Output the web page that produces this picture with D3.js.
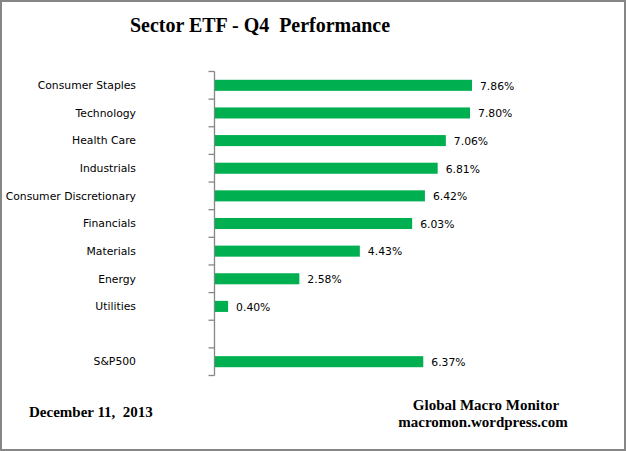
<!DOCTYPE html>
<html>
<head>
<meta charset="utf-8">
<script src="https://cdn.jsdelivr.net/npm/d3@7"></script>
<style>
  body { margin: 0; background: #fff; }
  svg { display: block; }
</style>
</head>
<body>
<div id="chart"></div>
<script>
    "use strict";

    // categories top to bottom, "" is the empty slot before the index
    var categories = ["Consumer Staples", "Technology", "Health Care", "Industrials",
        "Consumer Discretionary", "Financials", "Materials", "Energy", "Utilities", "", "S&P500"];
    var values = [7.86, 7.80, 7.06, 6.81, 6.42, 6.03, 4.43, 2.58, 0.40, null, 6.37];
    var valueLabels = ["7.86%", "7.80%", "7.06%", "6.81%", "6.42%", "6.03%", "4.43%", "2.58%", "0.40%", "", "6.37%"];

    var width = 626, height = 451;
    var margin = { top: 71.5, left: 214.5, bottom: 75.5 };

    var svg = d3.select("#chart")
        .append("svg")
        .attr("width", width)
        .attr("height", height);

    // outer frame
    svg.append("rect")
        .attr("x", 1).attr("y", 1)
        .attr("width", width - 2).attr("height", height - 2)
        .attr("fill", "#fff")
        .attr("stroke", "#868686")
        .attr("stroke-width", 2);

    var serif = "Liberation Serif, Times New Roman, serif";

    svg.append("text")
        .attr("x", 260)
        .attr("y", 31.5)
        .attr("text-anchor", "middle")
        .style("font-family", serif)
        .style("font-weight", "bold")
        .style("font-size", "21px")
        .style("white-space", "pre")
        .attr("textLength", 260)
        .attr("lengthAdjust", "spacingAndGlyphs")
        .text("Sector ETF - Q4  Performance");

    var data = categories.map(function (c, i) {
        return { name: c, value: values[i], label: valueLabels[i], key: "k" + i };
    });

    var y = d3.scaleBand()
        .domain(data.map(function (d) { return d.key; }))
        .range([margin.top, height - margin.bottom])
        .paddingInner(0.6)
        .paddingOuter(0.3);

    var x = d3.scaleLinear()
        .domain([0, 7.86])
        .range([margin.left + 0.5, 472]);

    // y axis with ticks between bands
    var step = y.step();
    var bounds = d3.range(categories.length + 1).map(function (i) {
        return margin.top + i * step;
    });
    var axis = svg.append("g").attr("stroke", "#868686").attr("stroke-width", 1.3);
    axis.append("line")
        .attr("x1", margin.left).attr("x2", margin.left)
        .attr("y1", margin.top).attr("y2", height - margin.bottom);
    axis.selectAll("line.tick")
        .data(bounds)
        .enter()
        .append("line")
        .attr("class", "tick")
        .attr("x1", margin.left - 6).attr("x2", margin.left)
        .attr("y1", function (d) { return d; })
        .attr("y2", function (d) { return d; });

    var labelFont = "Tahoma, DejaVu Sans, Verdana, sans-serif";

    svg.selectAll("text.cat")
        .data(data)
        .enter()
        .append("text")
        .attr("class", "cat")
        .attr("x", 136)
        .attr("y", function (d) { return y(d.key) + y.bandwidth() / 2; })
        .attr("dy", "0.35em")
        .attr("text-anchor", "end")
        .style("font-family", labelFont)
        .style("font-size", "10.8px")
        .attr("fill", "#000")
        .text(function (d) { return d.name; });

    var bars = data.filter(function (d) { return d.value !== null; });

    svg.selectAll("rect.bar")
        .data(bars)
        .enter()
        .append("rect")
        .attr("class", "bar")
        .attr("x", x(0))
        .attr("y", function (d) { return y(d.key); })
        .attr("width", function (d) { return x(d.value) - x(0); })
        .attr("height", y.bandwidth())
        .attr("fill", "#00B050");

    svg.selectAll("text.val")
        .data(bars)
        .enter()
        .append("text")
        .attr("class", "val")
        .attr("x", function (d) { return x(d.value) + 8; })
        .attr("y", function (d) { return y(d.key) + y.bandwidth() / 2; })
        .attr("dy", "0.4em")
        .style("font-family", labelFont)
        .style("font-size", "10.8px")
        .attr("fill", "#000")
        .text(function (d) { return d.label; });

    svg.append("text")
        .attr("x", 29).attr("y", 416.5)
        .style("font-family", serif).style("font-weight", "bold").style("font-size", "15px")
        .style("white-space", "pre")
        .text("December 11,  2013");

    svg.append("text")
        .attr("x", 486).attr("y", 410)
        .attr("text-anchor", "middle")
        .style("font-family", serif).style("font-weight", "bold").style("font-size", "15px")
        .text("Global Macro Monitor");

    svg.append("text")
        .attr("x", 483).attr("y", 426.5)
        .attr("text-anchor", "middle")
        .style("font-family", serif).style("font-weight", "bold").style("font-size", "15px")
        .text("macromon.wordpress.com");
</script>
</body>
</html>
